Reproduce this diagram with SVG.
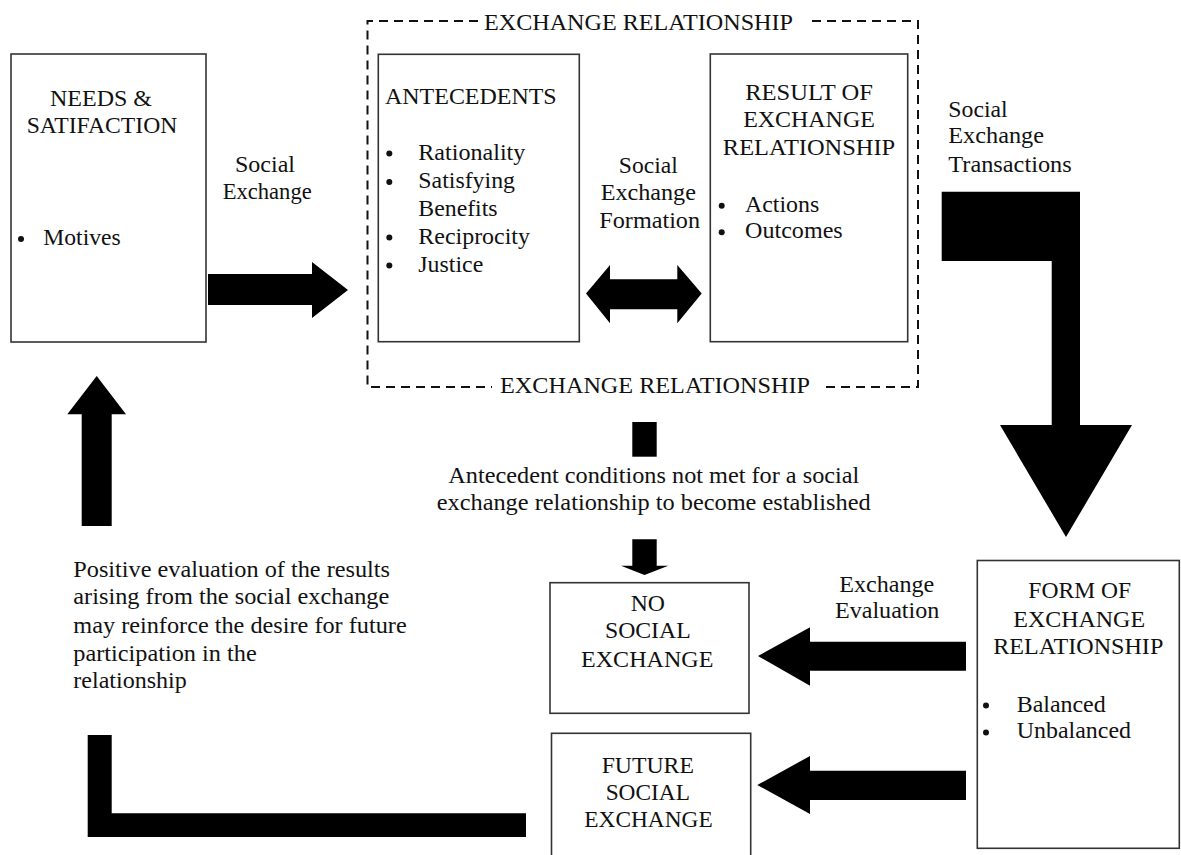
<svg xmlns="http://www.w3.org/2000/svg" width="1181" height="855" viewBox="0 0 1181 855">
  <style>
    text { font-family: 'Liberation Serif', 'Times New Roman', serif; font-size: 24px; fill: #111; }
    .m { text-anchor: middle; }
    .box { fill: #fff; stroke: #333; stroke-width: 1.6; }
    .dash { fill: none; stroke: #111; stroke-width: 2; stroke-dasharray: 9 6; }
    .arrow { fill: #000; }
    .dot { fill: #111; }
  </style>
  <rect x="0" y="0" width="1181" height="855" fill="#fff"/>

  <!-- dashed frame around the exchange relationship -->
  <g id="exchange-relationship">
    <path class="dash" d="M478,21 H367.5 V387 H492"/>
    <path class="dash" d="M812,21 H918 V387 H822"/>
    <text x="484" y="29.5" textLength="309" lengthAdjust="spacingAndGlyphs">EXCHANGE RELATIONSHIP</text>
    <text x="500" y="393" textLength="310" lengthAdjust="spacingAndGlyphs">EXCHANGE RELATIONSHIP</text>
  </g>

  <g id="needs">
    <rect class="box" x="11" y="54" width="195" height="288"/>
    <text x="50" y="106" textLength="102" lengthAdjust="spacingAndGlyphs">NEEDS &amp;</text>
    <text x="26.7" y="133" textLength="150.6" lengthAdjust="spacingAndGlyphs">SATIFACTION</text>
    <circle class="dot" cx="21" cy="239" r="3"/>
    <text x="43.3" y="245" textLength="77.4" lengthAdjust="spacingAndGlyphs">Motives</text>
  </g>

  <g id="antecedents">
    <rect class="box" x="378.3" y="54.3" width="201" height="287.4"/>
    <text x="385" y="104" textLength="171.7" lengthAdjust="spacingAndGlyphs">ANTECEDENTS</text>
    <circle class="dot" cx="389.3" cy="153.5" r="3"/>
    <circle class="dot" cx="389.3" cy="182" r="3"/>
    <circle class="dot" cx="389.3" cy="237.5" r="3"/>
    <circle class="dot" cx="389.3" cy="265.5" r="3"/>
    <text x="418.3" y="159.5" textLength="107" lengthAdjust="spacingAndGlyphs">Rationality</text>
    <text x="418.3" y="188" textLength="96.7" lengthAdjust="spacingAndGlyphs">Satisfying</text>
    <text x="418.3" y="216" textLength="79.3" lengthAdjust="spacingAndGlyphs">Benefits</text>
    <text x="418.3" y="243.5" textLength="111.7" lengthAdjust="spacingAndGlyphs">Reciprocity</text>
    <text x="418.3" y="271.5" textLength="65" lengthAdjust="spacingAndGlyphs">Justice</text>
  </g>

  <g id="result">
    <rect class="box" x="710.3" y="54" width="197.4" height="287.7"/>
    <text class="m" x="809" y="100" textLength="127.7" lengthAdjust="spacingAndGlyphs">RESULT OF</text>
    <text class="m" x="809" y="127.3" textLength="131.7" lengthAdjust="spacingAndGlyphs">EXCHANGE</text>
    <text class="m" x="809" y="155" textLength="172.3" lengthAdjust="spacingAndGlyphs">RELATIONSHIP</text>
    <circle class="dot" cx="721.7" cy="205.7" r="3"/>
    <circle class="dot" cx="721.7" cy="232.3" r="3"/>
    <text x="745" y="211.7" textLength="74.3" lengthAdjust="spacingAndGlyphs">Actions</text>
    <text x="745" y="238.3" textLength="97.7" lengthAdjust="spacingAndGlyphs">Outcomes</text>
  </g>

  <g id="no-social-exchange">
    <rect class="box" x="550" y="582.7" width="199" height="130.6"/>
    <text class="m" x="647.8" y="610.7" textLength="34.3" lengthAdjust="spacingAndGlyphs">NO</text>
    <text class="m" x="647.8" y="638.3" textLength="85.7" lengthAdjust="spacingAndGlyphs">SOCIAL</text>
    <text class="m" x="647.2" y="666.7" textLength="132.3" lengthAdjust="spacingAndGlyphs">EXCHANGE</text>
  </g>

  <g id="future-social-exchange">
    <rect class="box" x="551.5" y="733.3" width="199.2" height="130"/>
    <text class="m" x="647.8" y="772.7" textLength="92.3" lengthAdjust="spacingAndGlyphs">FUTURE</text>
    <text class="m" x="647.8" y="800" textLength="84.3" lengthAdjust="spacingAndGlyphs">SOCIAL</text>
    <text class="m" x="648.5" y="827.3" textLength="128.4" lengthAdjust="spacingAndGlyphs">EXCHANGE</text>
  </g>

  <g id="form">
    <rect class="box" x="977.3" y="560.5" width="202" height="287.8"/>
    <text class="m" x="1079.7" y="598.3" textLength="102.7" lengthAdjust="spacingAndGlyphs">FORM OF</text>
    <text class="m" x="1079.2" y="626.7" textLength="131.7" lengthAdjust="spacingAndGlyphs">EXCHANGE</text>
    <text class="m" x="1078.3" y="654" textLength="170" lengthAdjust="spacingAndGlyphs">RELATIONSHIP</text>
    <circle class="dot" cx="986" cy="705.5" r="3"/>
    <circle class="dot" cx="986" cy="732.5" r="3"/>
    <text x="1016.7" y="711.7" textLength="89" lengthAdjust="spacingAndGlyphs">Balanced</text>
    <text x="1016.7" y="738.3" textLength="114.3" lengthAdjust="spacingAndGlyphs">Unbalanced</text>
  </g>

  <!-- block arrows between the stages -->
  <g id="connectors">
    <path class="arrow" d="M208,274 H312 V262 L348,290 L312,318 V305 H208 Z"/>
    <path class="arrow" d="M586,293.5 L610,265 V279.3 H677.3 V265 L701.7,293.5 L677.3,323.3 V309.3 H610 V323.3 Z"/>
    <path class="arrow" d="M941.7,191.7 H1080 V425 H1132 L1066,537 L1000,425 H1051.7 V261 H941.7 Z"/>
    <rect class="arrow" x="632.3" y="422" width="24.4" height="34.7"/>
    <path class="arrow" d="M632.3,539.3 H656.7 V565.7 H668.3 L644.5,575 L621,565.7 H632.3 Z"/>
    <path class="arrow" d="M966,641.7 V670.7 H810 V685.7 L758,656 L810,627.3 V641.7 Z"/>
    <path class="arrow" d="M966,770.7 V800 H810 V814 L757.3,785 L810,756 V770.7 Z"/>
    <path class="arrow" d="M526,813.3 V837 H87.7 V735 H111.7 V813.3 Z"/>
    <path class="arrow" d="M81.7,526 V414.3 H67.3 L96.7,376 L126,414.3 H111.7 V526 Z"/>
  </g>

  <g id="labels">
    <text x="235" y="172" textLength="60" lengthAdjust="spacingAndGlyphs">Social</text>
    <text x="222.7" y="199" textLength="89" lengthAdjust="spacingAndGlyphs">Exchange</text>

    <text class="m" x="648.3" y="173.3" textLength="59" lengthAdjust="spacingAndGlyphs">Social</text>
    <text class="m" x="648.3" y="200" textLength="95.3" lengthAdjust="spacingAndGlyphs">Exchange</text>
    <text class="m" x="649.7" y="228.3" textLength="100.7" lengthAdjust="spacingAndGlyphs">Formation</text>

    <text x="948.3" y="116.7" textLength="59.4" lengthAdjust="spacingAndGlyphs">Social</text>
    <text x="948.3" y="143.3" textLength="95.7" lengthAdjust="spacingAndGlyphs">Exchange</text>
    <text x="948.3" y="171.7" textLength="123.4" lengthAdjust="spacingAndGlyphs">Transactions</text>

    <text x="448.3" y="483.3" textLength="411" lengthAdjust="spacingAndGlyphs">Antecedent conditions not met for a social</text>
    <text x="436.7" y="510" textLength="434" lengthAdjust="spacingAndGlyphs">exchange relationship to become established</text>

    <text x="839.3" y="591.7" textLength="95" lengthAdjust="spacingAndGlyphs">Exchange</text>
    <text x="835" y="618.3" textLength="104.3" lengthAdjust="spacingAndGlyphs">Evaluation</text>

    <text x="73.3" y="576.7" textLength="316.7" lengthAdjust="spacingAndGlyphs">Positive evaluation of the results</text>
    <text x="73.3" y="604.3" textLength="316" lengthAdjust="spacingAndGlyphs">arising from the social exchange</text>
    <text x="73.3" y="632.7" textLength="333.4" lengthAdjust="spacingAndGlyphs">may reinforce the desire for future</text>
    <text x="73.3" y="660.7" textLength="183.4" lengthAdjust="spacingAndGlyphs">participation in the</text>
    <text x="73.3" y="688.3" textLength="113.4" lengthAdjust="spacingAndGlyphs">relationship</text>
  </g>
</svg>
